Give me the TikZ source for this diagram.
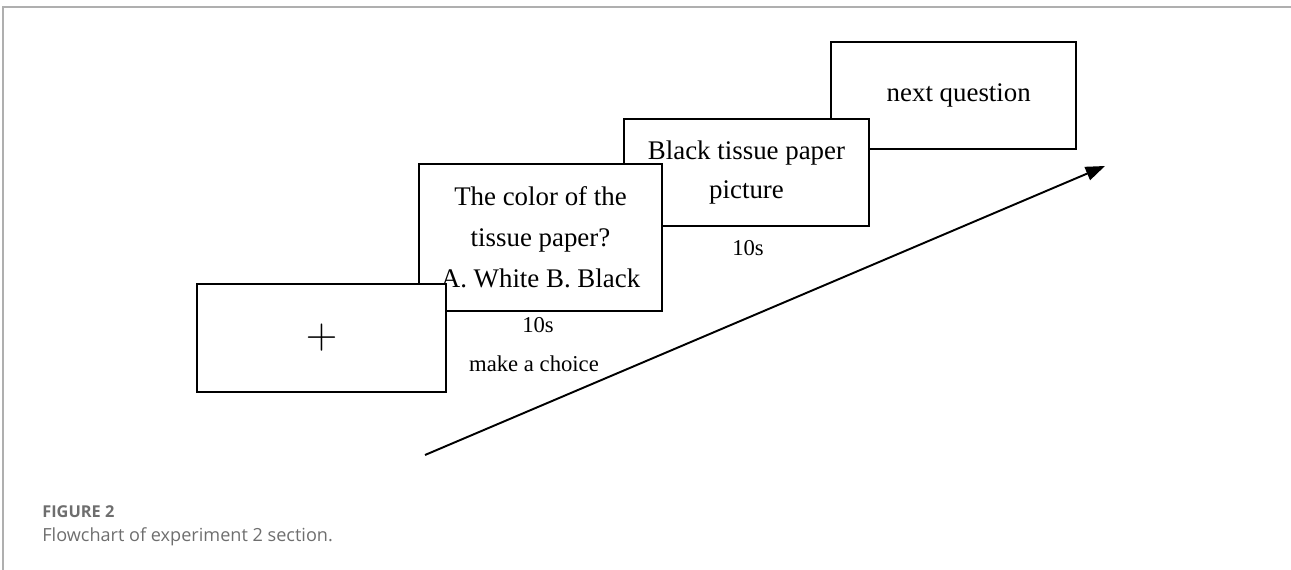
\documentclass[tikz,border=0pt]{standalone}
\usepackage{fontspec}
\setmainfont{Liberation Serif}
\newfontfamily\capfont{Open Sans}
\usetikzlibrary{arrows.meta}
\definecolor{capgray}{RGB}{110,110,110}
\definecolor{framegray}{RGB}{175,175,175}

\begin{document}
\begin{tikzpicture}[x=0.02cm,y=-0.02cm]
\tikzset{
  screen/.style={draw,fill=white,line width=1.1pt,align=center,inner sep=0pt,
    font=\fontsize{15.3}{23.2}\selectfont},
  timing/.style={font=\fontsize{12.9}{15}\selectfont}
}
\useasboundingbox (0,0) rectangle (1291,570);

% page frame
\draw[framegray,line width=1.2pt] (1291,7) -- (3,7) -- (3,570);

% screens, back to front
\node[screen,minimum width=4.9cm,minimum height=2.14cm] (next) at (953.5,95.5) {\hspace*{6pt}\raisebox{-3.4pt}{next question}};
\node[screen,minimum width=4.9cm,minimum height=2.14cm] (photo) at (746.5,172.5) {\raisebox{-1pt}{Black tissue paper}\\picture};
\node[screen,minimum width=4.86cm,minimum height=2.94cm] (ask) at (540.5,237.5) {The color of the\\tissue paper?\\A. White B. Black};
\node[screen,minimum width=4.98cm,minimum height=2.16cm,font=\fontsize{24}{24}\selectfont] (fix) at (321.5,338) {$+$};

\node[timing] (askt) at (538,325) {10s};
\node[timing] (choice) at (534,364) {make a choice};
\node[timing] (photot) at (748,248) {10s};

% time axis
\coordinate (t0) at (425,455);
\coordinate (t1) at (1105,166);
\draw[line width=1.1pt,-{Triangle[length=11pt,width=8pt]}] (t0) -- (t1);

% caption
\node[anchor=base west,inner sep=0pt,text=capgray,font=\capfont\bfseries\fontsize{9.3}{10}\selectfont] (figno) at (42,518) {FIGURE 2};
\node[anchor=base west,inner sep=0pt,text=capgray,font=\capfont\fontsize{10.3}{12}\selectfont] (figcap) at (42,541) {Flowchart of experiment 2 section.};
\end{tikzpicture}
\end{document}
